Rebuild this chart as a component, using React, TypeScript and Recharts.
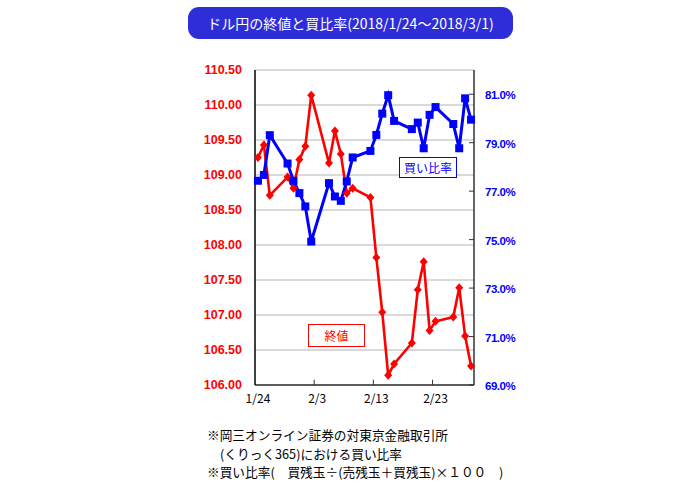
import React from 'react';
import { LineChart, Line, XAxis, YAxis, CartesianGrid, ReferenceLine } from 'recharts';

// ---- data ----
const dates = ['1/24','1/25','1/26','1/29','1/30','1/31','2/1','2/2','2/5','2/6','2/7','2/8','2/9','2/12','2/13','2/14','2/15','2/16','2/19','2/20','2/21','2/22','2/23','2/26','2/27','2/28','3/1'];
const closeValues = [109.25,109.43,108.71,108.97,108.81,109.22,109.41,110.14,109.17,109.63,109.30,108.74,108.81,108.68,107.82,107.04,106.14,106.30,106.60,107.36,107.76,106.78,106.91,106.97,107.39,106.70,106.27];
const buyRatio = [77.43,77.67,79.31,78.14,77.43,76.92,76.37,74.92,77.33,76.78,76.60,77.40,78.39,78.66,79.32,80.20,80.96,79.90,79.56,79.83,78.77,80.15,80.47,79.77,78.77,80.83,79.95];
const xTickLabels = ['1/24','2/3','2/13','2/23'];
const leftTicks = [106,106.5,107,107.5,108,108.5,109,109.5,110,110.5];
const rightTicks = [69,71,73,75,77,79,81];

const dayOf = (s: string) => {
  const [m, d] = s.split('/').map(Number);
  return Math.round((Date.UTC(2018, m - 1, d) - Date.UTC(2018, 0, 24)) / 86400000);
};
const data = dates.map((s, i) => ({ d: dayOf(s), close: closeValues[i], ratio: buyRatio[i] }));
const xTickDays = xTickLabels.map(dayOf);

const RED = '#ff0000';
const BLUE = '#0000ff';

const Square = (p: any) => (
  <rect key={`sq-${p.index}`} x={p.cx - 4} y={p.cy - 4} width={8} height={8} fill={BLUE} />
);
const Diamond = (p: any) => (
  <polygon key={`dm-${p.index}`} points={`${p.cx},${p.cy - 4.5} ${p.cx + 4},${p.cy} ${p.cx},${p.cy + 4.5} ${p.cx - 4},${p.cy}`} fill={RED} />
);

const RightTick = (p: any) => (
  <g>
    <line x1={p.x - 5} x2={p.x} y1={p.y} y2={p.y} stroke="#333" strokeWidth={1} />
    <text x={p.x + 11} y={p.y + 1} dy="0.355em" textAnchor="start" fill={BLUE} fontWeight="bold" fontSize={11.5} fontFamily="'Liberation Sans', Arial, sans-serif" letterSpacing={-0.5}>
      {Number(p.payload.value).toFixed(1)}%
    </text>
  </g>
);

export default function App() {
  return (
    <div style={{ position: 'absolute', left: 0, top: 0, width: 700, height: 485, background: '#fff' }}>
      <div style={{ position: 'absolute', left: 188, top: 7, width: 325, height: 32, borderRadius: 11, background: '#2e2ed9', color: '#fff', fontFamily: "'Noto Sans CJK JP', sans-serif", fontSize: 14, lineHeight: '32px', textAlign: 'center', whiteSpace: 'nowrap' }}>
        ドル円の終値と買比率(2018/1/24～2018/3/1)
      </div>
      <LineChart width={700} height={485} data={data} margin={{ top: 70, right: 171, bottom: 80, left: 200 }}>
        <CartesianGrid yAxisId="left" vertical={false} stroke="#b4b4b4" strokeWidth={1} />
        <XAxis dataKey="d" type="number" domain={[-0.5, 36.5]} ticks={xTickDays} tickFormatter={(v: number) => xTickLabels[xTickDays.indexOf(v)] ?? ''} height={20} tickLine={false} tickSize={0} tickMargin={9} axisLine={{ stroke: '#333', strokeWidth: 1.5 }} tick={{ fill: '#000', fontSize: 12, fontFamily: "'Noto Sans CJK JP', sans-serif" }} />
        <YAxis yAxisId="left" domain={[106, 110.5]} ticks={leftTicks} width={55} tickLine={false} tickSize={0} tickMargin={13} tickFormatter={(v: number) => v.toFixed(2)} axisLine={{ stroke: '#000', strokeWidth: 1.5 }} tick={{ fill: RED, fontSize: 12.5, fontWeight: 'bold', fontFamily: "'Liberation Sans', Arial, sans-serif" }} />
        <YAxis yAxisId="right" orientation="right" domain={[69, 82]} ticks={rightTicks} width={55} tickLine={false} tickSize={0} tickMargin={0} axisLine={{ stroke: '#333', strokeWidth: 1.5 }} tick={<RightTick />} />
        {[9.5, 19.5, 29.5].map((x) => (
          <ReferenceLine key={x} yAxisId="left" segment={[{ x, y: 106 }, { x, y: 106.075 }]} stroke="#333" strokeWidth={1} />
        ))}
        <Line yAxisId="left" dataKey="close" stroke={RED} strokeWidth={2.6} dot={Diamond} activeDot={false} isAnimationActive={false} />
        <Line yAxisId="right" dataKey="ratio" stroke={BLUE} strokeWidth={3} dot={Square} activeDot={false} isAnimationActive={false} />
      </LineChart>
      <div style={{ position: 'absolute', left: 308, top: 324, width: 55, height: 21, border: `1px solid ${RED}`, background: '#fff', color: RED, fontFamily: "'Noto Sans CJK JP', sans-serif", fontSize: 12, lineHeight: '21px', textAlign: 'center' }}>終値</div>
      <div style={{ position: 'absolute', left: 399, top: 157, width: 56, height: 19, border: `1px solid ${BLUE}`, background: '#fff', color: BLUE, fontFamily: "'Noto Sans CJK JP', sans-serif", fontSize: 12, lineHeight: '19px', textAlign: 'center' }}>買い比率</div>
      <div style={{ position: 'absolute', left: 207, top: 426, fontFamily: "'Noto Sans CJK JP', sans-serif", fontSize: 12.7, lineHeight: '18.5px', color: '#000', whiteSpace: 'pre' }}>
        <div>※岡三オンライン証券の対東京金融取引所</div>
        <div style={{ paddingLeft: 13 }}>(くりっく365)における買い比率</div>
        <div>※買い比率(　買残玉÷(売残玉＋買残玉)×１００　)</div>
      </div>
    </div>
  );
}
